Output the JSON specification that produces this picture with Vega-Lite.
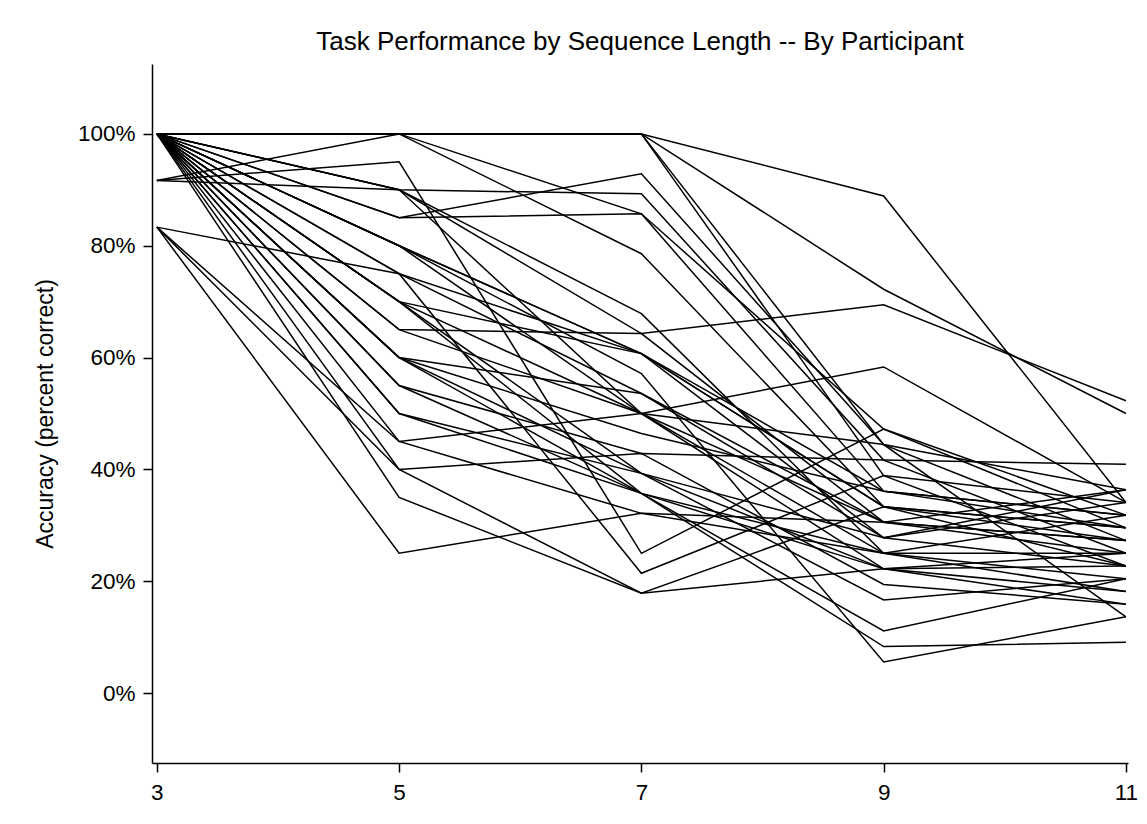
{
  "$schema": "https://vega.github.io/schema/vega-lite/v6.json",
  "width": 976,
  "height": 699,
  "autosize": {"type": "none"},
  "padding": {"left": 152, "top": 64, "right": 19, "bottom": 61},
  "background": "white",
  "title": {"text": "Task Performance by Sequence Length -- By Participant", "fontSize": 26, "font": "Liberation Sans", "fontWeight": "normal", "color": "black", "offset": 9, "anchor": "middle"},
  "config": {
    "view": {"stroke": null},
    "axis": {"domainColor": "black", "domainWidth": 1.5, "tickColor": "black", "tickWidth": 1.5, "tickSize": 9, "labelFont": "Liberation Sans", "labelFontSize": 22.5, "labelColor": "black", "titleFont": "Liberation Sans", "titleFontSize": 23, "titleFontWeight": "normal", "titleColor": "black", "grid": false}
  },
  "datasets": {
    "acc": [
      {"p":1,"len":3,"acc":1},{"p":1,"len":5,"acc":1},{"p":1,"len":7,"acc":1},{"p":1,"len":9,"acc":0.8889},{"p":1,"len":11,"acc":0.3409},
      {"p":2,"len":3,"acc":1},{"p":2,"len":5,"acc":1},{"p":2,"len":7,"acc":1},{"p":2,"len":9,"acc":0.7222},{"p":2,"len":11,"acc":0.5},
      {"p":3,"len":3,"acc":1},{"p":3,"len":5,"acc":1},{"p":3,"len":7,"acc":1},{"p":3,"len":9,"acc":0.4444},{"p":3,"len":11,"acc":0.2727},
      {"p":4,"len":3,"acc":1},{"p":4,"len":5,"acc":1},{"p":4,"len":7,"acc":1},{"p":4,"len":9,"acc":0.3889},{"p":4,"len":11,"acc":0.2273},
      {"p":5,"len":3,"acc":0.9167},{"p":5,"len":5,"acc":1},{"p":5,"len":7,"acc":0.8571},{"p":5,"len":9,"acc":0.4722},{"p":5,"len":11,"acc":0.3182},
      {"p":6,"len":3,"acc":0.9167},{"p":6,"len":5,"acc":0.95},{"p":6,"len":7,"acc":0.25},{"p":6,"len":9,"acc":0.4722},{"p":6,"len":11,"acc":0.2955},
      {"p":7,"len":3,"acc":0.9167},{"p":7,"len":5,"acc":0.9},{"p":7,"len":7,"acc":0.8929},{"p":7,"len":9,"acc":0.4167},{"p":7,"len":11,"acc":0.25},
      {"p":8,"len":3,"acc":1},{"p":8,"len":5,"acc":0.9},{"p":8,"len":7,"acc":0.6429},{"p":8,"len":9,"acc":0.6944},{"p":8,"len":11,"acc":0.5227},
      {"p":9,"len":3,"acc":1},{"p":9,"len":5,"acc":0.85},{"p":9,"len":7,"acc":0.9286},{"p":9,"len":9,"acc":0.4444},{"p":9,"len":11,"acc":0.3636},
      {"p":10,"len":3,"acc":1},{"p":10,"len":5,"acc":0.85},{"p":10,"len":7,"acc":0.8571},{"p":10,"len":9,"acc":0.3611},{"p":10,"len":11,"acc":0.2955},
      {"p":11,"len":3,"acc":1},{"p":11,"len":5,"acc":1},{"p":11,"len":7,"acc":0.7857},{"p":11,"len":9,"acc":0.3333},{"p":11,"len":11,"acc":0.2727},
      {"p":12,"len":3,"acc":1},{"p":12,"len":5,"acc":0.8},{"p":12,"len":7,"acc":0.6071},{"p":12,"len":9,"acc":0.3611},{"p":12,"len":11,"acc":0.3182},
      {"p":13,"len":3,"acc":1},{"p":13,"len":5,"acc":0.8},{"p":13,"len":7,"acc":0.6071},{"p":13,"len":9,"acc":0.3333},{"p":13,"len":11,"acc":0.2273},
      {"p":14,"len":3,"acc":1},{"p":14,"len":5,"acc":0.8},{"p":14,"len":7,"acc":0.5},{"p":14,"len":9,"acc":0.3056},{"p":14,"len":11,"acc":0.2727},
      {"p":15,"len":3,"acc":1},{"p":15,"len":5,"acc":0.8},{"p":15,"len":7,"acc":0.5714},{"p":15,"len":9,"acc":0.0556},{"p":15,"len":11,"acc":0.1364},
      {"p":16,"len":3,"acc":1},{"p":16,"len":5,"acc":0.75},{"p":16,"len":7,"acc":0.2143},{"p":16,"len":9,"acc":0.3889},{"p":16,"len":11,"acc":0.3409},
      {"p":17,"len":3,"acc":0.8333},{"p":17,"len":5,"acc":0.75},{"p":17,"len":7,"acc":0.6071},{"p":17,"len":9,"acc":0.3333},{"p":17,"len":11,"acc":0.2955},
      {"p":18,"len":3,"acc":1},{"p":18,"len":5,"acc":0.75},{"p":18,"len":7,"acc":0.5357},{"p":18,"len":9,"acc":0.3056},{"p":18,"len":11,"acc":0.25},
      {"p":19,"len":3,"acc":1},{"p":19,"len":5,"acc":0.7},{"p":19,"len":7,"acc":0.6071},{"p":19,"len":9,"acc":0.2778},{"p":19,"len":11,"acc":0.3409},
      {"p":20,"len":3,"acc":1},{"p":20,"len":5,"acc":0.7},{"p":20,"len":7,"acc":0.5},{"p":20,"len":9,"acc":0.25},{"p":20,"len":11,"acc":0.2045},
      {"p":21,"len":3,"acc":1},{"p":21,"len":5,"acc":0.7},{"p":21,"len":7,"acc":0.3929},{"p":21,"len":9,"acc":0.2222},{"p":21,"len":11,"acc":0.1818},
      {"p":22,"len":3,"acc":1},{"p":22,"len":5,"acc":0.7},{"p":22,"len":7,"acc":0.3571},{"p":22,"len":9,"acc":0.0833},{"p":22,"len":11,"acc":0.0909},
      {"p":23,"len":3,"acc":1},{"p":23,"len":5,"acc":0.65},{"p":23,"len":7,"acc":0.6429},{"p":23,"len":9,"acc":0.3056},{"p":23,"len":11,"acc":0.3636},
      {"p":24,"len":3,"acc":1},{"p":24,"len":5,"acc":0.65},{"p":24,"len":7,"acc":0.5},{"p":24,"len":9,"acc":0.2222},{"p":24,"len":11,"acc":0.1591},
      {"p":25,"len":3,"acc":1},{"p":25,"len":5,"acc":0.6},{"p":25,"len":7,"acc":0.5357},{"p":25,"len":9,"acc":0.2778},{"p":25,"len":11,"acc":0.2273},
      {"p":26,"len":3,"acc":1},{"p":26,"len":5,"acc":0.6},{"p":26,"len":7,"acc":0.4643},{"p":26,"len":9,"acc":0.3611},{"p":26,"len":11,"acc":0.3182},
      {"p":27,"len":3,"acc":1},{"p":27,"len":5,"acc":0.6},{"p":27,"len":7,"acc":0.3571},{"p":27,"len":9,"acc":0.25},{"p":27,"len":11,"acc":0.3182},
      {"p":28,"len":3,"acc":1},{"p":28,"len":5,"acc":0.6},{"p":28,"len":7,"acc":0.3929},{"p":28,"len":9,"acc":0.1667},{"p":28,"len":11,"acc":0.2045},
      {"p":29,"len":3,"acc":1},{"p":29,"len":5,"acc":0.55},{"p":29,"len":7,"acc":0.3571},{"p":29,"len":9,"acc":0.2222},{"p":29,"len":11,"acc":0.25},
      {"p":30,"len":3,"acc":1},{"p":30,"len":5,"acc":0.55},{"p":30,"len":7,"acc":0.4286},{"p":30,"len":9,"acc":0.1944},{"p":30,"len":11,"acc":0.1591},
      {"p":31,"len":3,"acc":1},{"p":31,"len":5,"acc":0.5},{"p":31,"len":7,"acc":0.3929},{"p":31,"len":9,"acc":0.2778},{"p":31,"len":11,"acc":0.3636},
      {"p":32,"len":3,"acc":1},{"p":32,"len":5,"acc":0.5},{"p":32,"len":7,"acc":0.3571},{"p":32,"len":9,"acc":0.1111},{"p":32,"len":11,"acc":0.2045},
      {"p":33,"len":3,"acc":0.8333},{"p":33,"len":5,"acc":0.45},{"p":33,"len":7,"acc":0.5},{"p":33,"len":9,"acc":0.5833},{"p":33,"len":11,"acc":0.3409},
      {"p":34,"len":3,"acc":1},{"p":34,"len":5,"acc":0.45},{"p":34,"len":7,"acc":0.3214},{"p":34,"len":9,"acc":0.3056},{"p":34,"len":11,"acc":0.2727},
      {"p":35,"len":3,"acc":0.8333},{"p":35,"len":5,"acc":0.4},{"p":35,"len":7,"acc":0.4286},{"p":35,"len":9,"acc":0.4167},{"p":35,"len":11,"acc":0.4091},
      {"p":36,"len":3,"acc":1},{"p":36,"len":5,"acc":0.4},{"p":36,"len":7,"acc":0.1786},{"p":36,"len":9,"acc":0.3333},{"p":36,"len":11,"acc":0.2955},
      {"p":37,"len":3,"acc":0.8333},{"p":37,"len":5,"acc":0.25},{"p":37,"len":7,"acc":0.3214},{"p":37,"len":9,"acc":0.25},{"p":37,"len":11,"acc":0.1818},
      {"p":38,"len":3,"acc":1},{"p":38,"len":5,"acc":0.35},{"p":38,"len":7,"acc":0.1786},{"p":38,"len":9,"acc":0.2222},{"p":38,"len":11,"acc":0.2273},
      {"p":39,"len":3,"acc":1},{"p":39,"len":5,"acc":0.9},{"p":39,"len":7,"acc":0.5},{"p":39,"len":9,"acc":0.4444},{"p":39,"len":11,"acc":0.1364},
      {"p":40,"len":3,"acc":1},{"p":40,"len":5,"acc":0.9},{"p":40,"len":7,"acc":0.6786},{"p":40,"len":9,"acc":0.25},{"p":40,"len":11,"acc":0.25}
    ]
  },
  "data": {"name": "acc"},
  "mark": {"type": "line", "color": "black", "strokeWidth": 1.5},
  "encoding": {
    "x": {"field": "len", "type": "quantitative", "scale": {"domain": [2.96, 11.017], "nice": false, "zero": false}, "axis": {"values": [3, 5, 7, 9, 11], "title": null, "labelPadding": 9}},
    "y": {"field": "acc", "type": "quantitative", "scale": {"domain": [-0.125, 1.125], "nice": false, "zero": false}, "axis": {"values": [0, 0.2, 0.4, 0.6, 0.8, 1], "format": ".0%", "title": "Accuracy (percent correct)", "labelPadding": 8, "titlePadding": 20}},
    "detail": {"field": "p", "type": "nominal"}
  }
}
